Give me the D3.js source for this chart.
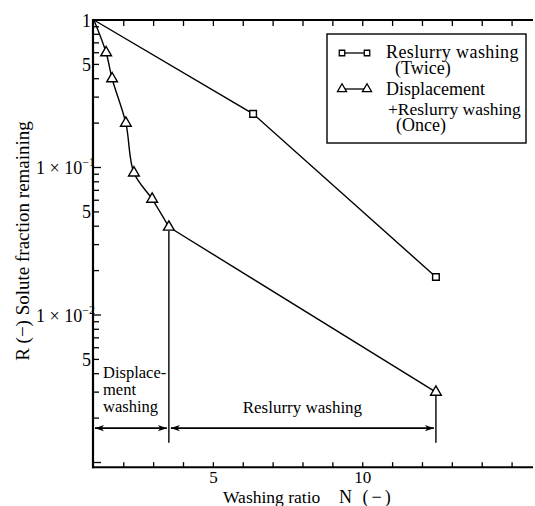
<!DOCTYPE html>
<html><head><meta charset="utf-8">
<script src="https://cdn.jsdelivr.net/npm/d3@7"></script>
<style>
html,body{margin:0;padding:0;background:#fff;}
</style></head>
<body>
<svg id="chart" width="535" height="506" font-family="'Liberation Serif', 'Times New Roman', Tinos, 'DejaVu Serif', 'Noto Serif', serif"></svg>
<script>
// ---- data ----
const reslurryTwiceN = [1, 6.33, 12.45];
const reslurryTwiceR = [1, 0.231, 0.0181];
const displacementN = [1, 1.41, 1.61, 2.07, 2.34, 2.95, 3.51];
const displacementR = [1, 0.6, 0.4, 0.2, 0.092, 0.061, 0.0395];
const reslurryOnceN = [3.51, 12.45];
const reslurryOnceR = [0.0395, 0.0030];
const xTickValues = [5, 10];
const xTickLabels = ["5", "10"];
const yMajorValues = [1, 0.5, 0.1, 0.05, 0.01, 0.005];
const yMajorBase = ["1", "5", "1 × 10", "5", "1 × 10", "5"];
const yMajorSup = ["", "", "−1", "", "−2", ""];
const legendLabels = [["Reslurry washing", "(Twice)"], ["Displacement", "+Reslurry washing", "(Once)"]];
const stageLabels = [["Displace-", "ment", "washing"], ["Reslurry washing"]];
const stageBoundsN = [1, 3.51, 12.45];
const arrowR = 0.00171;
const stageLineBottomR = 0.00136;
const xDomain = [0.97, 15.7];
const yDomain = [1, 0.00093];

const svg = d3.select("#chart");
const x = d3.scaleLinear().domain(xDomain).range([93, 533]);
const yScale = d3.scaleLog().domain([1, 0.001]).range([20, 462.5]);
const y = v => yScale(v);
const yTop = y(yDomain[0]), yBot = y(yDomain[1]);

// minor log ticks
const minorVals = [];
for (let d = 0; d >= -3; d--) {
  for (let k = 1; k <= 9; k++) {
    const v = k * Math.pow(10, d - 1);
    if (v <= 1 && v >= yDomain[1]) minorVals.push(v);
  }
}
const axisG = svg.append("g").attr("stroke", "#000");
axisG.selectAll("line.ymin").data(minorVals).join("line")
  .attr("x1", x(xDomain[0])).attr("x2", d => x(xDomain[0]) + (Math.abs(Math.log10(d) - Math.round(Math.log10(d))) < 1e-6 ? 8 : 6))
  .attr("y1", d => y(d)).attr("y2", d => y(d)).attr("stroke-width", 1.3);

// x ticks bottom and top (every integer)
const xInts = d3.range(2, 16);
axisG.selectAll("line.xb").data(xInts).join("line")
  .attr("x1", d => x(d)).attr("x2", d => x(d))
  .attr("y1", yBot).attr("y2", yBot - 5).attr("stroke-width", 1.3);
axisG.append("g").selectAll("line").data(xInts).join("line")
  .attr("x1", d => x(d)).attr("x2", d => x(d))
  .attr("y1", yTop).attr("y2", yTop + 6).attr("stroke-width", 1.3);

// axis lines
axisG.append("line").attr("x1", x(xDomain[0])).attr("x2", x(xDomain[0]))
  .attr("y1", yTop - 1).attr("y2", yBot + 1).attr("stroke-width", 2.2);
axisG.append("line").attr("x1", x(xDomain[0]) - 1).attr("x2", x(xDomain[1]))
  .attr("y1", yBot).attr("y2", yBot).attr("stroke-width", 2);
axisG.append("line").attr("x1", x(xDomain[0]) - 1).attr("x2", x(xDomain[1]))
  .attr("y1", yTop).attr("y2", yTop).attr("stroke-width", 2);

// y tick labels
const yl = svg.append("g").attr("font-size", 18).attr("text-anchor", "end");
yMajorValues.forEach((v, i) => {
  const t = yl.append("text").attr("x", i % 2 === 0 && i > 0 ? 95 : 91).attr("y", y(v) + 6.5);
  t.append("tspan").text(yMajorBase[i]);
  if (yMajorSup[i]) t.append("tspan").attr("font-size", 12).attr("dy", -8).text(yMajorSup[i]);
});

// x tick labels
svg.append("g").attr("font-size", 17).attr("text-anchor", "middle")
  .selectAll("text").data(xTickValues).join("text")
  .attr("x", d => x(d)).attr("y", 483).text((d, i) => xTickLabels[i]);

// axis titles
const xt = svg.append("text").attr("font-size", 17.5).attr("x", 223).attr("y", 503);
xt.append("tspan").text("Washing ratio");
xt.append("tspan").attr("x", 339).attr("font-size", 18).attr("letter-spacing", 3).text("N (−)");
svg.append("text").attr("font-size", 19)
  .attr("transform", "translate(29,241) rotate(-90)").attr("text-anchor", "middle")
  .text("R (−) Solute fraction remaining");

// lines
const line = d3.line().x(d => x(d[0])).y(d => y(d[1]));
const dataG = svg.append("g").attr("fill", "none").attr("stroke", "#000").attr("stroke-width", 1.4);
dataG.append("path").attr("d", line(reslurryTwiceN.map((n, i) => [n, reslurryTwiceR[i]])));
dataG.append("path").attr("d", d3.line().x(d => x(d[0])).y(d => y(d[1])).curve(d3.curveCatmullRom.alpha(0.5))(displacementN.map((n, i) => [n, displacementR[i]])));
dataG.append("path").attr("d", line(reslurryOnceN.map((n, i) => [n, reslurryOnceR[i]])));

// stage boundary lines
const stageTops = [displacementR[displacementR.length - 1], reslurryOnceR[reslurryOnceR.length - 1]];
svg.append("g").attr("stroke", "#000").attr("stroke-width", 1.4)
  .selectAll("line").data(stageBoundsN.slice(1)).join("line")
  .attr("x1", d => x(d)).attr("x2", d => x(d))
  .attr("y1", (d, i) => y(stageTops[i]) + 4).attr("y2", y(stageLineBottomR));

// arrows
const defs = svg.append("defs");
defs.append("marker").attr("id", "ah").attr("viewBox", "-10 -5 10 10")
  .attr("refX", 0).attr("refY", 0).attr("markerWidth", 10).attr("markerHeight", 10)
  .attr("markerUnits", "userSpaceOnUse").attr("orient", "auto-start-reverse")
  .append("path").attr("d", "M0,0 L-9,-3.2 L-6.5,0 L-9,3.2 Z").attr("fill", "#000");
const segs = [[stageBoundsN[0], stageBoundsN[1]], [stageBoundsN[1], stageBoundsN[2]]];
svg.append("g").attr("stroke", "#000").attr("stroke-width", 1.6)
  .selectAll("line").data(segs).join("line")
  .attr("x1", (d, i) => (i === 0 ? x(xDomain[0]) + 2 : x(d[0]) + 2))
  .attr("x2", d => x(d[1]) - 2)
  .attr("y1", y(arrowR)).attr("y2", y(arrowR))
  .attr("marker-start", "url(#ah)").attr("marker-end", "url(#ah)");

// markers
const mk = svg.append("g").attr("fill", "#fff").attr("stroke", "#000").attr("stroke-width", 1.4);
const sq = d3.symbol().type(d3.symbolSquare).size(44);
const tri = d3.symbol().type(d3.symbolTriangle).size(50);
mk.selectAll("path.s").data(reslurryTwiceN.slice(1).map((n, i) => [n, reslurryTwiceR[i + 1]])).join("path")
  .attr("d", sq).attr("transform", d => `translate(${x(d[0])},${y(d[1])})`);
const triPts = displacementN.slice(1).map((n, i) => [n, displacementR[i + 1]])
  .concat([[reslurryOnceN[1], reslurryOnceR[1]]]);
mk.selectAll("path.t").data(triPts).join("path")
  .attr("d", tri).attr("transform", d => `translate(${x(d[0])},${y(d[1])})`);

// stage labels (one wrapped text)
const st = svg.append("g").attr("font-size", 16.5);
const dispT = st.append("text").attr("x", 103).attr("y", 378);
stageLabels[0].forEach((s, i) => dispT.append("tspan").attr("x", 103).attr("dy", i === 0 ? 0 : 17).text(s));
st.append("text").attr("x", (x(stageBoundsN[1]) + x(stageBoundsN[2])) / 2).attr("y", 413)
  .attr("text-anchor", "middle").attr("font-size", 17).text(stageLabels[1][0]);

// legend
const lg = svg.append("g");
lg.append("rect").attr("x", 327).attr("y", 34).attr("width", 199).attr("height", 109)
  .attr("fill", "#fff").attr("stroke", "#000").attr("stroke-width", 1.4);
const lgl = lg.append("g").attr("stroke", "#000").attr("stroke-width", 1.3);
[53, 89].forEach(ly => lgl.append("line").attr("x1", 342).attr("x2", 367).attr("y1", ly).attr("y2", ly));
const sqL = d3.symbol().type(d3.symbolSquare).size(30);
const triL = d3.symbol().type(d3.symbolTriangle).size(36);
[342, 367].forEach(lx => {
  lgl.append("path").attr("d", sqL).attr("fill", "#fff").attr("transform", `translate(${lx},53)`);
  lgl.append("path").attr("d", triL).attr("fill", "#fff").attr("transform", `translate(${lx},89)`);
});
const lt = lg.append("g").attr("font-size", 18);
const t1 = lt.append("text").attr("x", 386).attr("y", 58);
t1.append("tspan").attr("letter-spacing", 0.4).text(legendLabels[0][0]);
t1.append("tspan").attr("x", 395).attr("dy", 16).text(legendLabels[0][1]);
const t2 = lt.append("text").attr("x", 386).attr("y", 95);
t2.append("tspan").text(legendLabels[1][0]);
t2.append("tspan").attr("x", 388).attr("dy", 20).attr("font-size", 17.5).text(legendLabels[1][1]);
t2.append("tspan").attr("x", 396).attr("dy", 16).text(legendLabels[1][2]);
</script>
</body></html>
